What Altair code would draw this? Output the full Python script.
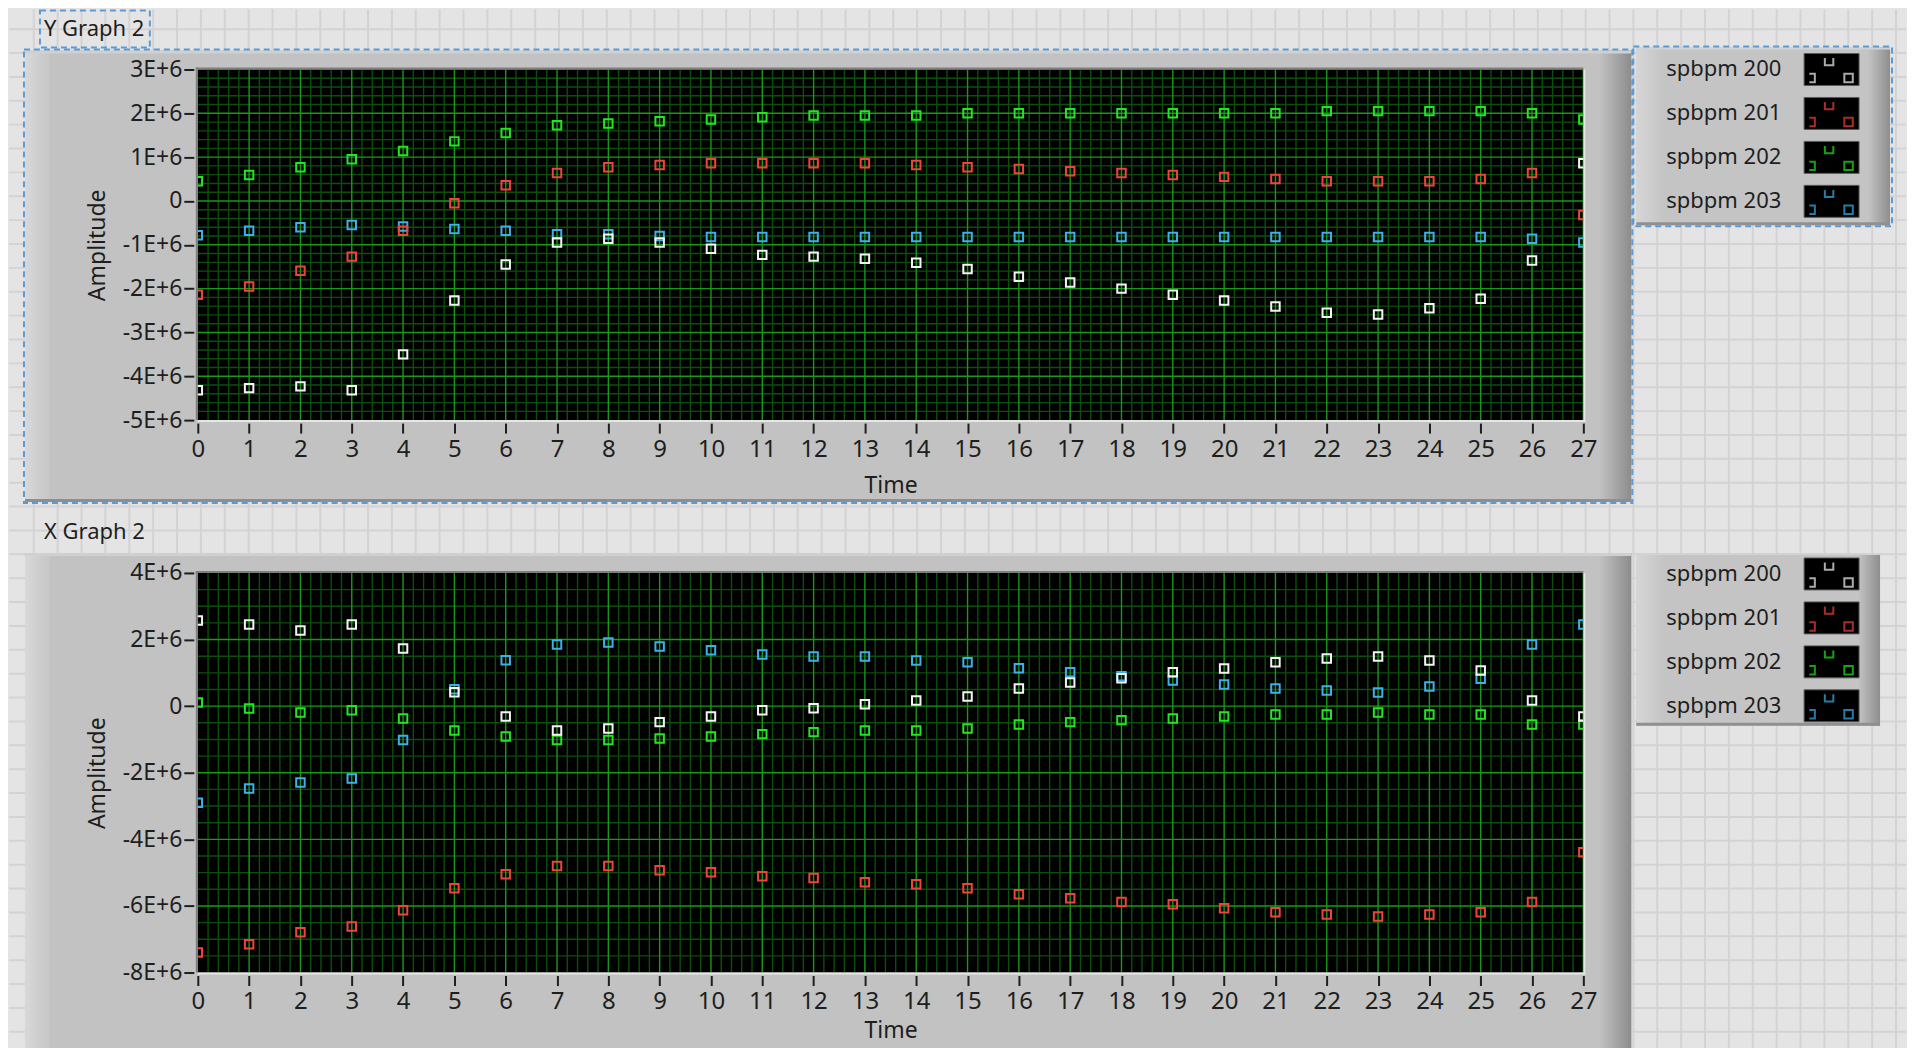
import altair as alt
import pandas as pd
import numpy as np

FONT = "Noto Sans"
TXT = "#1e1e1e"

time = list(range(28))
series = ["spbpm 200", "spbpm 201", "spbpm 202", "spbpm 203"]
colors = ["#f4f4f4", "#f0443a", "#22e622", "#3cb0ea"]

# Y Graph 2 (values in units of 1E+6)
y_spbpm200 = [-4.32, -4.27, -4.23, -4.32, -3.50, -2.27, -1.45, -0.95, -0.86, -0.95, -1.09, -1.23, -1.27, -1.32,
              -1.41, -1.55, -1.73, -1.86, -2.00, -2.14, -2.27, -2.41, -2.55, -2.59, -2.45, -2.23, -1.36, 0.86]
y_spbpm201 = [-2.14, -1.95, -1.59, -1.27, -0.68, -0.05, 0.36, 0.64, 0.77, 0.82, 0.86, 0.86, 0.86, 0.86,
              0.82, 0.77, 0.73, 0.68, 0.64, 0.59, 0.55, 0.50, 0.45, 0.45, 0.45, 0.50, 0.64, -0.32]
y_spbpm202 = [0.45, 0.59, 0.77, 0.95, 1.14, 1.36, 1.55, 1.73, 1.77, 1.82, 1.86, 1.91, 1.95, 1.95,
              1.95, 2.00, 2.00, 2.00, 2.00, 2.00, 2.00, 2.00, 2.05, 2.05, 2.05, 2.05, 2.00, 1.86]
y_spbpm203 = [-0.78, -0.68, -0.60, -0.55, -0.58, -0.64, -0.68, -0.76, -0.76, -0.80, -0.82, -0.82, -0.82, -0.82,
              -0.82, -0.82, -0.82, -0.82, -0.82, -0.82, -0.82, -0.82, -0.82, -0.82, -0.82, -0.82, -0.86, -0.95]

# X Graph 2 (values in units of 1E+6)
x_spbpm200 = [2.57, 2.45, 2.27, 2.45, 1.73, 0.42, -0.31, -0.73, -0.67, -0.48, -0.31, -0.12, -0.06, 0.06,
              0.17, 0.29, 0.53, 0.71, 0.84, 1.02, 1.13, 1.32, 1.43, 1.49, 1.37, 1.07, 0.17, -0.31]
x_spbpm201 = [-7.40, -7.15, -6.79, -6.62, -6.13, -5.47, -5.05, -4.80, -4.80, -4.93, -4.99, -5.11, -5.16, -5.29,
              -5.35, -5.47, -5.65, -5.77, -5.88, -5.95, -6.07, -6.19, -6.26, -6.32, -6.26, -6.19, -5.88, -4.39]
x_spbpm202 = [0.11, -0.07, -0.19, -0.12, -0.37, -0.73, -0.91, -1.02, -1.02, -0.97, -0.91, -0.84, -0.78, -0.73,
              -0.73, -0.67, -0.55, -0.48, -0.42, -0.37, -0.31, -0.25, -0.25, -0.19, -0.25, -0.25, -0.55, -0.55]
x_spbpm203 = [-2.90, -2.47, -2.29, -2.17, -1.02, 0.51, 1.38, 1.85, 1.91, 1.79, 1.68, 1.55, 1.49, 1.49,
              1.37, 1.32, 1.14, 1.02, 0.90, 0.77, 0.65, 0.53, 0.47, 0.41, 0.59, 0.82, 1.85, 2.45]

y_ticks_top = [-5e6, -4e6, -3e6, -2e6, -1e6, 0, 1e6, 2e6, 3e6]
y_ticks_bot = [-8e6, -6e6, -4e6, -2e6, 0, 2e6, 4e6]

W = 1387
H_TOP = 351
H_BOT = 400
GAP_V = 153
GAP_H = 53
LEFT = 189
TOPM = 60
TOTAL_H = 1040
TOTAL_W = 1899

color_scale = alt.Scale(domain=series, range=colors)


def long_df(vals):
    rows = []
    for name, arr in reversed(list(zip(series, vals))):
        for t, v in zip(time, arr):
            rows.append({"t": t, "v": v * 1e6, "s": name})
    return pd.DataFrame(rows)


def one():
    return pd.DataFrame({"k": [0]})


def grad(c0, c1, horizontal=True):
    return alt.Gradient(gradient="linear",
                        stops=[alt.GradientStop(color=c0, offset=0), alt.GradientStop(color=c1, offset=1)],
                        x1=0, x2=1 if horizontal else 0, y1=0, y2=0 if horizontal else 1)


def vrect(x, x2, y, y2, **mk):
    return alt.Chart(one()).mark_rect(**mk).encode(
        x=alt.value(x), x2=alt.value(x2), y=alt.value(y), y2=alt.value(y2))


def page_background():
    # light front-panel background with its faint grid (decoration), drawn from the top graph's frame
    x0, x1 = -LEFT, TOTAL_W - LEFT
    y0, y1 = -TOPM, TOTAL_H - TOPM
    bgx = pd.DataFrame({"px": [1461 - 23.9 * k for k in range(0, 70)] + [1461 + 23.9 * k for k in range(1, 11)]})
    bgy = pd.DataFrame({"py": [342 - 23.9 * k for k in range(-26, 17)]})
    bgx = bgx[(bgx.px > x0 + 1) & (bgx.px < x1 - 1)]
    bgy = bgy[(bgy.py > y0 + 1) & (bgy.py < y1 - 1)]
    r = vrect(x0, x1, y0, y1, color="#e4e4e4")
    bg_v = alt.Chart(bgx).mark_rule(color="#d3d3d3", strokeWidth=2).encode(
        x=alt.X("px:Q", scale=None), y=alt.value(y0), y2=alt.value(y1))
    bg_h = alt.Chart(bgy).mark_rule(color="#d3d3d3", strokeWidth=2).encode(
        y=alt.Y("py:Q", scale=None), x=alt.value(x0), x2=alt.value(x1))
    return alt.layer(r, bg_v, bg_h)


def graph(vals, ticks, minor_step, H, label, selected, title_pad):
    ymin, ymax = ticks[0], ticks[-1]
    xs = alt.Scale(domain=[0, 27], nice=False, zero=False)
    ys = alt.Scale(domain=[ymin, ymax], nice=False, zero=False)
    xa = alt.Axis(values=time, format="d", title="Time", grid=False, domain=False,
                  tickColor="#1e1e1e", tickWidth=2, tickSize=10, offset=3, labelPadding=4,
                  labelFont=FONT, labelFontSize=24, labelColor=TXT, labelOverlap=False, labelFlush=False,
                  titleFont=FONT, titleFontSize=23, titleFontWeight="normal", titleColor=TXT,
                  titlePadding=title_pad, zindex=1)
    ya = alt.Axis(values=ticks, grid=False, domain=False, title="Amplitude",
                  labelExpr="datum.value == 0 ? '0' : (datum.value < 0 ? '-' : '') + round(abs(datum.value) / 1000000) + 'E+6'",
                  tickColor="#1e1e1e", tickWidth=2, tickSize=10, offset=4, labelPadding=2,
                  labelFont=FONT, labelFontSize=23, labelColor=TXT, labelOverlap=False, labelFlush=False,
                  titleFont=FONT, titleFontSize=23, titleFontWeight="normal", titleColor=TXT,
                  titlePadding=13, zindex=1)

    def X():
        return alt.X("t:Q", scale=xs, axis=xa)

    def Y():
        return alt.Y("v:Q", scale=ys, axis=ya)

    top_off = -19 if selected else -20
    bottom = H + 82 if selected else H + 76
    layers = [
        vrect(-173, W + 48, top_off, bottom, color="#c2c2c2"),
        vrect(-173, -148, top_off, bottom, color=grad("#d8d8d8", "#c6c6c6")),
        vrect(W + 16, W + 48, top_off, bottom, color=grad("#c2c2c2", "#8c8c8c")),
        vrect(-173, W + 48, top_off, top_off + 3, color="#d0d0d0"),
        vrect(0, W, 0, H, color="#000000"),
    ]
    if selected:
        layers.append(vrect(-173, W + 48, bottom - 3, bottom, color="#8e8e8e"))
    xminor = pd.DataFrame({"t": [i * 0.2 for i in range(1, 135) if i % 5 != 0]})
    nminor = int(round((ymax - ymin) / minor_step))
    major_step = ticks[1] - ticks[0]
    per = int(round(major_step / minor_step))
    yminor = pd.DataFrame({"v": [ymin + i * minor_step for i in range(1, nminor) if i % per != 0]})
    xmajor = pd.DataFrame({"t": time[1:]})
    ymajor = pd.DataFrame({"v": ticks[1:-1]})
    layers += [
        alt.Chart(xminor).mark_rule(color="#0c4e0c", strokeWidth=1.4).encode(x=X()),
        alt.Chart(yminor).mark_rule(color="#0c4e0c", strokeWidth=1.4).encode(y=Y()),
        alt.Chart(xmajor).mark_rule(color="#189a18", strokeWidth=1.4).encode(x=X()),
        alt.Chart(ymajor).mark_rule(color="#189a18", strokeWidth=1.4).encode(y=Y()),
        vrect(-2, W, -2, 0, color="#7e7e7e"),
        vrect(-2, 0, -2, H, color="#7e7e7e"),
        vrect(0, W + 2, H, H + 2, color="#e6e6e6"),
        vrect(W, W + 2, 0, H + 2, color="#e6e6e6"),
    ]
    pts = alt.Chart(long_df(vals)).mark_point(shape="square", filled=False, size=72, strokeWidth=2,
                                               clip=True, opacity=1).encode(
        x=X(), y=Y(), color=alt.Color("s:N", scale=color_scale, legend=None))
    layers.append(pts)
    layers.append(alt.Chart(one()).mark_text(text=label, align="left", baseline="middle", font=FONT,
                                             fontSize=22, color=TXT).encode(x=alt.value(-154), y=alt.value(-41)))
    if selected:
        layers.append(vrect(-158, -48, -59, -22, fillOpacity=0, stroke="#5b9bd5", strokeWidth=2, strokeDash=[6, 4]))
        layers.append(vrect(-174, W + 49, -20, H + 83, fillOpacity=0, stroke="#5b9bd5", strokeWidth=2, strokeDash=[6, 4]))
    inner = alt.layer(*layers)
    if selected:
        return alt.layer(page_background(), inner).resolve_scale(
            x="independent", y="independent").properties(width=W, height=H)
    return inner.properties(width=W, height=H)


def legend(H, r0, box_top, box_bot, box_w, selected):
    ldf = pd.DataFrame({"s": series, "row": [0, 1, 2, 3]})
    ys = alt.Scale(domain=[0, 3], range=[r0, r0 + 132], nice=False, zero=False)
    base = alt.Chart(ldf)
    L = [
        vrect(0, box_w, box_top, box_bot, color="#c4c4c4"),
        vrect(0, 28, box_top, box_bot, color=grad("#d6d6d6", "#c4c4c4")),
        vrect(box_w - 22, box_w, box_top, box_bot, color=grad("#c4c4c4", "#8e8e8e")),
        vrect(0, box_w, box_top, box_top + 2, color="#d2d2d2"),
        vrect(0, box_w, box_bot - 3, box_bot, color="#909090"),
        base.mark_text(align="left", baseline="middle", font=FONT, fontSize=22, color=TXT).encode(
            x=alt.value(30), y=alt.Y("row:Q", scale=ys, axis=None), text="s:N"),
        base.transform_calculate(y0="datum.row - 16/44", y1="datum.row + 16/44").mark_rect(
            color="#000000", stroke="#5a5a5a", strokeWidth=1).encode(
            x=alt.value(168), x2=alt.value(223), y=alt.Y("y0:Q", scale=ys, axis=None), y2="y1:Q"),
        base.mark_point(shape="M-1,-0.7L-1,1L1,1L1,-0.7", filled=False, size=72, strokeWidth=2,
                        yOffset=-8.5).encode(
            x=alt.value(193), y=alt.Y("row:Q", scale=ys, axis=None),
            color=alt.Color("s:N", scale=color_scale, legend=None)),
        base.mark_point(shape="M-0.3,-1L1,-1L1,1L-0.3,1", filled=False, size=72, strokeWidth=2,
                        yOffset=8.5).encode(
            x=alt.value(174.5), y=alt.Y("row:Q", scale=ys, axis=None),
            color=alt.Color("s:N", scale=color_scale, legend=None)),
        base.mark_point(shape="square", filled=False, size=72, strokeWidth=2, yOffset=8.5).encode(
            x=alt.value(212.5), y=alt.Y("row:Q", scale=ys, axis=None),
            color=alt.Color("s:N", scale=color_scale, legend=None)),
    ]
    if selected:
        L.append(vrect(-3, box_w + 2, box_top - 1, box_bot + 1, fillOpacity=0, stroke="#5b9bd5",
                       strokeWidth=2, strokeDash=[6, 4]))
    return alt.layer(*L).properties(width=box_w, height=H)


top = graph([y_spbpm200, y_spbpm201, y_spbpm202, y_spbpm203], y_ticks_top, 0.2e6, H_TOP, "Y Graph 2", True, 13)
bot = graph([x_spbpm200, x_spbpm201, x_spbpm202, x_spbpm203], y_ticks_bot, 0.5e6, H_BOT, "X Graph 2", False, 6)
top_leg = legend(H_TOP, 0, -22, 156, 254, True)
bot_leg = legend(H_BOT, 1, -20, 153, 244, False)

chart = alt.concat(top, top_leg, bot, bot_leg, columns=2,
                   spacing=alt.RowColnumber(row=GAP_V, column=GAP_H), bounds="flush").properties(
    padding=0,
    background="#e4e4e4",
).configure_view(stroke=None)

chart.save("out.html", embed_options={"renderer": "svg", "actions": False})
